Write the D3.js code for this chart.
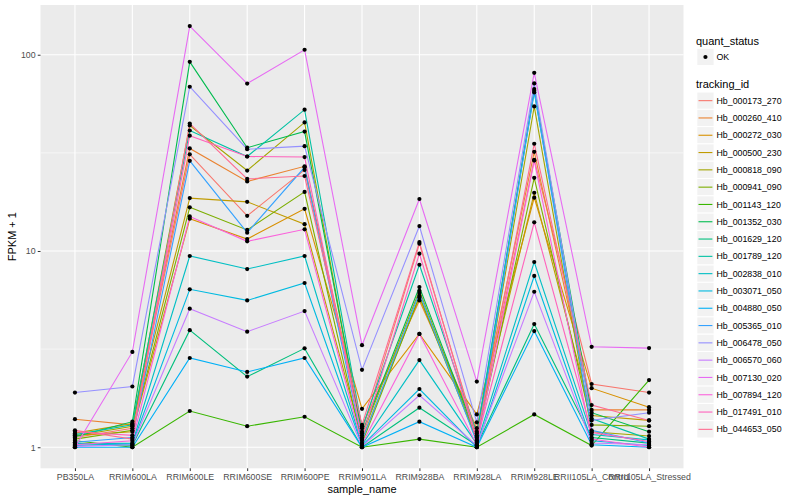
<!DOCTYPE html>
<html lang="en">
<head>
<meta charset="UTF-8">
<title>FPKM by sample</title>
<script src="https://d3js.org/d3.v7.min.js"></script>
<style>
  body { margin: 0; background: #fff; }
  svg { font-family: "Liberation Sans", Arial, sans-serif; }
  .tick text { fill: #4D4D4D; font-size: 8.8px; }
  .tick line { stroke: #333333; }
</style>
</head>
<body>
<div id="chart"></div>
<script>
// sample names on the x axis
const samples = ["PB350LA", "RRIM600LA", "RRIM600LE", "RRIM600SE", "RRIM600PE", "RRIM901LA",
                 "RRIM928BA", "RRIM928LA", "RRIM928LE", "RRII105LA_Control", "RRII105LA_Stressed"];

const trackingIds = ["Hb_000173_270", "Hb_000260_410", "Hb_000272_030", "Hb_000500_230", "Hb_000818_090",
  "Hb_000941_090", "Hb_001143_120", "Hb_001352_030", "Hb_001629_120", "Hb_001789_120", "Hb_002838_010",
  "Hb_003071_050", "Hb_004880_050", "Hb_005365_010", "Hb_006478_050", "Hb_006570_060", "Hb_007130_020",
  "Hb_007894_120", "Hb_017491_010", "Hb_044653_050"];

// FPKM + 1, one row per tracking id, one value per sample
const fpkm = [
  [1.12, 1.25, 31.1, 15.1, 25.9, 1.20, 10.9, 1.15, 29.1, 2.10, 1.90],
  [1.39, 1.30, 33.3, 22.6, 27.0, 1.28, 5.60, 1.25, 32.0, 1.55, 1.55],
  [1.15, 1.20, 14.6, 11.5, 16.4, 1.57, 3.78, 1.47, 18.7, 2.00, 1.60],
  [1.18, 1.32, 18.6, 17.8, 13.7, 1.10, 5.80, 1.20, 19.8, 1.45, 1.37],
  [1.14, 1.28, 43.6, 25.7, 45.2, 1.15, 6.27, 1.10, 54.5, 1.20, 1.14],
  [1.10, 1.22, 16.7, 12.8, 20.0, 1.05, 5.90, 1.08, 23.6, 1.30, 1.28],
  [1.08, 1.00, 1.53, 1.28, 1.43, 1.00, 1.10, 1.00, 1.47, 1.02, 2.20],
  [1.13, 1.35, 92.0, 33.6, 40.6, 1.18, 6.55, 1.13, 66.8, 1.50, 1.20],
  [1.05, 1.02, 3.95, 2.29, 3.19, 1.00, 1.59, 1.02, 4.24, 1.12, 1.05],
  [1.16, 1.30, 41.1, 30.3, 52.5, 1.25, 8.51, 1.18, 64.3, 1.40, 1.10],
  [1.04, 1.05, 9.43, 8.09, 9.43, 1.03, 2.78, 1.04, 8.79, 1.16, 1.09],
  [1.02, 1.04, 6.38, 5.60, 6.87, 1.02, 1.98, 1.00, 7.46, 1.08, 1.02],
  [1.00, 1.00, 2.85, 2.42, 2.85, 1.00, 1.35, 1.00, 3.91, 1.03, 1.00],
  [1.06, 1.12, 28.8, 12.4, 26.7, 1.08, 6.10, 1.06, 65.5, 1.22, 1.05],
  [1.90, 2.04, 68.7, 33.0, 34.2, 2.48, 13.4, 1.34, 71.4, 1.37, 1.50],
  [1.01, 1.03, 5.08, 3.88, 4.94, 1.01, 1.84, 1.02, 6.20, 1.05, 1.03],
  [1.00, 3.06, 140, 71.3, 106, 3.31, 18.4, 2.16, 80.9, 3.25, 3.20],
  [1.03, 1.08, 15.0, 11.2, 12.9, 1.04, 3.78, 1.03, 28.9, 1.10, 1.00],
  [1.20, 1.15, 38.7, 30.3, 30.1, 1.12, 9.69, 1.08, 14.0, 1.19, 1.07],
  [1.22, 1.10, 44.6, 23.3, 24.1, 1.30, 11.1, 1.12, 35.2, 1.64, 1.37]
];

const yTicks = [1, 10, 100];
const yMinor = [Math.sqrt(10), Math.sqrt(1000)];

// ggplot default hue palette for 20 levels
const palette = ["#F8766D", "#EA8331", "#D89000", "#C09B00", "#A3A500", "#7CAE00", "#39B600", "#00BB4E",
  "#00BF7D", "#00C1A3", "#00BFC4", "#00BAE0", "#00B0F6", "#35A2FF", "#9590FF", "#C77CFF", "#E76BF3",
  "#FA62DB", "#FF62BC", "#FF6C91"];

const W = 800, H = 500;
const panel = { left: 40.5, right: 683.5, top: 5, bottom: 468.3 };

const svg = d3.select("#chart").append("svg")
  .attr("width", W).attr("height", H);

const x = d3.scalePoint()
  .domain(samples)
  .range([panel.left, panel.right])
  .padding(0.6);

const allVals = fpkm.flat();
const lmin = Math.log10(d3.min(allVals)), lmax = Math.log10(d3.max(allVals));
const pad = (lmax - lmin) * 0.05;
const y = d3.scaleLog()
  .domain([Math.pow(10, lmin - pad), Math.pow(10, lmax + pad)])
  .range([panel.bottom, panel.top]);

const colour = d3.scaleOrdinal()
  .domain(trackingIds)
  .range(palette);

// panel background and grid
svg.append("rect")
  .attr("x", panel.left).attr("y", panel.top)
  .attr("width", panel.right - panel.left).attr("height", panel.bottom - panel.top)
  .attr("fill", "#EBEBEB");

svg.selectAll(".yminor").data(yMinor).enter().append("line")
  .attr("x1", panel.left).attr("x2", panel.right)
  .attr("y1", d => y(d)).attr("y2", d => y(d))
  .attr("stroke", "#fff").attr("stroke-width", 0.55);

svg.selectAll(".ymajor").data(yTicks).enter().append("line")
  .attr("x1", panel.left).attr("x2", panel.right)
  .attr("y1", d => y(d)).attr("y2", d => y(d))
  .attr("stroke", "#fff").attr("stroke-width", 1.1);

svg.selectAll(".xmajor").data(samples).enter().append("line")
  .attr("x1", d => x(d)).attr("x2", d => x(d))
  .attr("y1", panel.top).attr("y2", panel.bottom)
  .attr("stroke", "#fff").attr("stroke-width", 1.1);

// lines
const line = d3.line()
  .x((d, i) => x(samples[i]))
  .y(d => y(d));

svg.selectAll(".series").data(fpkm).enter().append("path")
  .attr("d", line)
  .attr("fill", "none")
  .attr("stroke", (d, i) => colour(trackingIds[i]))
  .attr("stroke-width", 1.1);

// points
fpkm.forEach(row => {
  svg.selectAll(null).data(row).enter().append("circle")
    .attr("cx", (d, i) => x(samples[i]))
    .attr("cy", d => y(d))
    .attr("r", 2.1)
    .attr("fill", "#000");
});

// axes
const xAxis = svg.append("g")
  .attr("transform", `translate(0,${panel.bottom})`)
  .call(d3.axisBottom(x).tickSize(2.75).tickPadding(2.5));
xAxis.select(".domain").remove();

const yAxis = svg.append("g")
  .attr("transform", `translate(${panel.left},0)`)
  .call(d3.axisLeft(y).tickValues(yTicks).tickFormat(d3.format("d")).tickSize(2.75).tickPadding(2.2));
yAxis.select(".domain").remove();

svg.append("text")
  .attr("x", (panel.left + panel.right) / 2).attr("y", 493)
  .attr("text-anchor", "middle")
  .style("font-size", "11px")
  .text("sample_name");

svg.append("text")
  .attr("transform", `translate(16,${(panel.top + panel.bottom) / 2}) rotate(-90)`)
  .attr("text-anchor", "middle")
  .style("font-size", "11px")
  .text("FPKM + 1");

// legends
const lg = svg.append("g").attr("transform", "translate(696,0)");

lg.append("text").attr("x", 0).attr("y", 44.5)
  .style("font-size", "11px").text("quant_status");
lg.append("rect").attr("x", 0.8).attr("y", 48.3).attr("width", 17.3).attr("height", 17.3)
  .attr("fill", "#F2F2F2").attr("stroke", "#fff");
lg.append("circle").attr("cx", 9.45).attr("cy", 57).attr("r", 2.1).attr("fill", "#000");
lg.append("text").attr("x", 20.5).attr("y", 60.1)
  .style("font-size", "8.8px").text("OK");

lg.append("text").attr("x", 0).attr("y", 88.3)
  .style("font-size", "11px").text("tracking_id");

const keys = lg.selectAll(".key").data(trackingIds).enter().append("g")
  .attr("transform", (d, i) => `translate(0.8,${92 + i * 17.3})`);
keys.append("rect")
  .attr("width", 17.3).attr("height", 17.3)
  .attr("fill", "#F2F2F2").attr("stroke", "#fff");
keys.append("line")
  .attr("x1", 1.7).attr("x2", 15.6).attr("y1", 8.65).attr("y2", 8.65)
  .attr("stroke", d => colour(d)).attr("stroke-width", 1.1);
keys.append("text")
  .attr("x", 19.7).attr("y", 11.8)
  .style("font-size", "8.8px")
  .text(d => d);
</script>
</body>
</html>
